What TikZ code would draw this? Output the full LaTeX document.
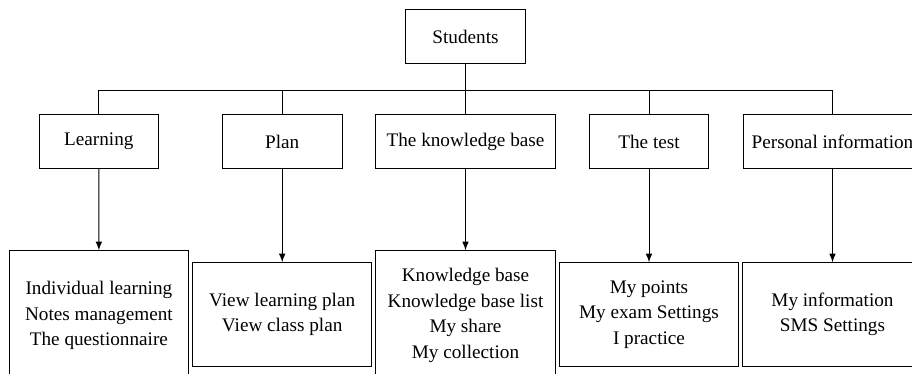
\documentclass[tikz,border=0pt]{standalone}
\usepackage{fontspec}
\setmainfont{Liberation Serif}
\usetikzlibrary{positioning}

\begin{document}
\begin{tikzpicture}[x=0.5pt, y=-0.5pt, line width=0.5pt,
    box/.style={draw, minimum height=26.8pt, inner sep=2pt, align=center,
      font=\fontsize{9.6}{12.8}\selectfont},
    leaf/.style={box, anchor=north, minimum width=89.6pt}]
      \useasboundingbox (0,0) rectangle (912,374);
      \clip (0,0) rectangle (912,374);
      % top and second row
      \node[box, minimum width=59.8pt] (students) at (465.5,36.5) {Students};
      \node[box, minimum width=59.8pt] (learn) at (98.8,141.5) {Learning};
      \node[box, minimum width=59.8pt] (plan) at (282.2,141.5) {Plan};
      \node[box, minimum width=89.8pt] (kbase) at (465.5,141.5) {The knowledge base};
      \node[box, minimum width=59.7pt] (test) at (649,141.5) {The test};
      \node[box, minimum width=89.3pt] (info) at (832.5,141.5) {Personal information};
      % bottom row
      \node[leaf, minimum height=64.7pt] (learn-sub) at (98.9,250.3)
        {Individual learning\\Notes management\\The questionnaire};
      \node[leaf, minimum height=51.7pt] (plan-sub) at (282.2,262.3)
        {View learning plan\\View class plan};
      \node[leaf, minimum height=64.7pt] (kbase-sub) at (465.5,250.3)
        {Knowledge base\\Knowledge base list\\My share\\My collection};
      \node[leaf, minimum height=51.7pt] (test-sub) at (649,262.3)
        {My points\\My exam Settings\\I practice};
      \node[leaf, minimum height=51.7pt] (info-sub) at (832.5,262.3)
        {My information\\SMS Settings};
      % connectors
      \coordinate (bar) at (0,90.3);
      \draw (students.south) -- (students.south |- bar);
      \draw (learn.north |- bar) -- (info.north |- bar);
      \foreach \n in {learn, plan, kbase, test, info} {
        \draw (\n.north) -- (\n.north |- bar);
        \draw[-latex] (\n.south) -- (\n-sub.north);
      }
\end{tikzpicture}
\end{document}
